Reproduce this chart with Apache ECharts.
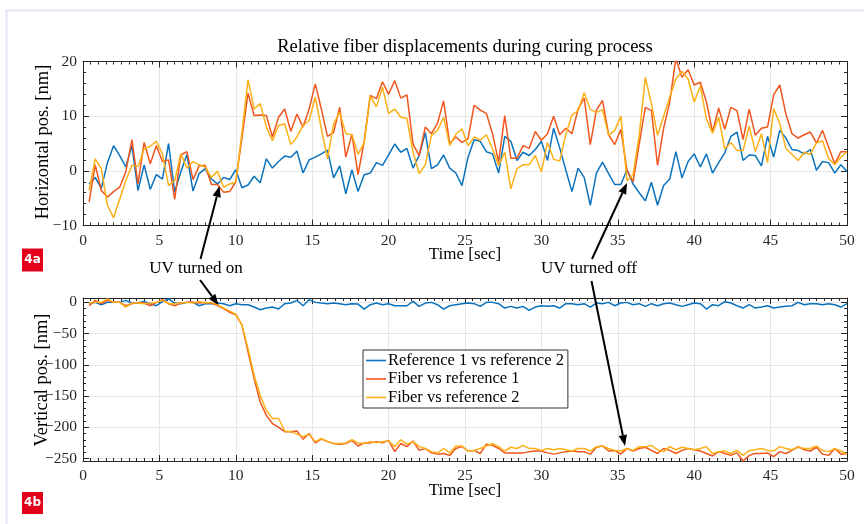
<!DOCTYPE html>
<html>
<head>
<meta charset="utf-8">
<script src="https://cdn.jsdelivr.net/npm/echarts@6/dist/echarts.min.js"></script>
<style>
html,body{margin:0;padding:0;background:#fff;}
#chart{width:864px;height:524px;}
</style>
</head>
<body>
<div id="chart"></div>
<script>
// ---- Data (sampled every 0.4 s, t = 0.4 ... 50.0) ----
const seriesNames = ['Reference 1 vs reference 2', 'Fiber vs reference 1', 'Fiber vs reference 2'];
const xTicks = [0, 5, 10, 15, 20, 25, 30, 35, 40, 45, 50];
const hTicks = [-10, 0, 10, 20];
const vTicks = [-250, -200, -150, -100, -50, 0];

// Horizontal position [nm]
const hRef12 = [-2.4,-1.2,-3.2,1.5,4.6,2.8,0.7,4.6,-3.6,1.1,-3.4,-0.7,-1.5,5.0,-3.9,-0.2,3.0,-3.7,-0.5,0.4,-1.5,-2.4,-1.2,-1.6,0.2,
-3.1,-2.6,-1.0,-2.2,2.2,0.5,1.7,2.7,2.5,3.6,-0.4,2.0,2.5,3.1,3.8,-1.3,0.9,-4.2,0.2,-3.8,-0.7,-0.4,1.5,1.0,2.9,
4.9,3.4,4.1,0.5,2.8,7.0,0.4,1.1,2.9,0.5,-0.4,-2.7,2.5,5.7,5.4,3.5,3.1,-0.4,6.3,5.4,1.9,3.4,2.8,3.9,5.4,
1.9,7.8,4.2,0.1,-3.8,0.5,-1.2,-6.3,-0.4,1.6,-0.5,-2.5,-2.5,0.2,-2.4,-4.0,-5.5,-2.1,-6.3,-2.7,-1.5,3.5,-1.3,1.7,3.1,
0.7,3.1,-0.4,1.5,3.3,6.3,7.1,1.9,2.9,2.8,0.9,6.3,2.5,7.4,6.0,3.9,3.7,3.1,3.9,0.1,1.7,1.5,-0.4,1.1,-0.1];
const hFib1 = [-5.7,1.1,-3.6,-4.8,-3.8,-3.0,-0.2,5.7,-2.4,5.2,1.3,4.6,1.7,2.0,-5.2,2.9,3.5,-1.6,0.9,1.0,-2.5,-2.5,-3.9,-3.8,-2.0,
6.0,14.2,10.1,10.2,10.1,6.2,9.8,11.3,7.2,10.4,8.0,11.3,15.9,11.3,6.3,7.0,11.6,2.5,6.7,-0.7,5.4,13.8,13.2,16.3,14.0,
16.5,13.3,13.9,4.9,2.8,8.0,6.8,8.7,12.8,5.0,6.2,5.2,5.9,12.0,11.1,10.5,6.8,1.6,10.1,2.3,2.3,4.6,4.1,7.2,5.6,
6.8,10.0,6.6,7.8,6.8,11.3,13.3,4.8,11.1,12.9,6.6,4.8,7.6,0.1,-2.0,4.9,11.6,11.0,1.0,7.8,12.6,20.5,17.1,18.5,15.7,
16.2,12.6,7.1,11.5,7.6,11.6,11.0,5.7,11.3,6.5,7.8,8.0,13.9,15.7,10.4,6.8,6.0,6.6,7.1,5.1,7.4,4.3,1.3,3.5,3.5];
const hFib2 = [-3.6,2.2,0.4,-6.3,-8.6,-5.2,-1.8,1.0,0.8,4.0,4.5,5.4,3.1,-2.7,-1.8,3.1,0.5,1.7,1.1,0.7,-1.2,-0.1,-3.0,-2.4,-2.1,
7.0,16.7,11.3,12.3,8.0,5.5,8.3,8.6,4.8,6.2,8.3,9.2,13.5,7.7,2.2,8.6,10.7,6.8,6.6,3.0,5.1,13.7,11.7,15.3,10.5,
11.3,9.8,9.6,3.4,-0.5,1.1,6.5,7.4,9.8,4.6,6.7,7.7,4.6,6.2,5.6,6.6,4.0,1.0,3.4,-3.3,0.4,1.1,1.1,2.8,-0.2,
5.2,2.1,1.8,6.7,10.2,11.0,14.3,11.2,10.7,11.2,6.5,7.4,10.0,-1.8,-0.7,6.5,17.1,12.3,6.5,10.0,13.5,16.8,18.2,16.8,12.6,
15.5,9.5,6.9,9.8,4.0,5.2,3.7,3.7,8.2,3.5,6.8,1.5,11.4,8.6,4.1,3.0,1.9,3.4,3.0,5.1,5.5,2.2,1.1,2.5,3.5];

// Vertical position [nm]
const vRef12 = [-2.1,0,-3.7,0,0,0,3.2,-1.1,-1.1,1.6,-2.1,-5.4,1.1,5.4,-1.1,-2.1,0,0,-5.4,-2.1,-2.1,-1.1,-2.1,-5.4,-2.1,
-3.7,-3.7,-7.5,-11.8,-9.1,-7.5,-10.7,-2.1,-1.1,3.2,-5.4,4.3,0,-1.1,-2.1,-1.1,-2.1,-3.7,-2.1,-2.7,-10.7,-3.7,-1.1,-3.7,-2.1,
-5.4,-5.4,-5.4,1.6,-6.4,-1.1,0,-3.7,-10.7,-5.4,-3.7,-2.1,-1.1,-2.1,-6.4,0,0,-2.1,-9.1,-6.4,-9.1,-6.4,-12.8,-7.5,-5.4,
-6.4,-5.4,-9.1,-2.1,-2.1,-3.7,-2.1,-7.5,-1.1,-2.1,0,-5.4,-1.1,0,-3.7,-2.1,-6.4,-2.1,-5.4,-2.1,-1.1,-3.7,-6.4,-3.7,-1.1,
-2.1,-10.7,-3.7,-5.4,1.1,-1.1,-5.4,-9.1,-3.7,-9.1,-7.5,-5.4,-9.1,-7.5,-6.4,-5.4,0,-3.7,-2.1,-2.1,-3.7,-2.1,-3.7,-7.5,-2.1];
const vFib1 = [-5.4,3.2,-2.1,3.2,0,0,-5.4,-2.1,0,-1.1,-5.4,0,4.3,-2.1,-5.4,-1.1,0,0,-1.1,0,-1.0,-5,-10,-16,-20,
-36,-79,-122,-160,-181,-194,-200,-207,-207,-206,-219,-210,-225,-219,-223,-226,-227,-226,-221,-230,-225,-225,-223,-225,-221,
-239,-226,-231,-222,-237,-234,-241,-243,-242,-245,-234,-231,-238,-237,-242,-227,-229,-234,-241,-241,-241,-241,-239,-238,-238,
-241,-243,-241,-239,-238,-239,-239,-243,-232,-230,-238,-237,-243,-234,-238,-234,-232,-237,-242,-234,-237,-242,-237,-234,-236,
-238,-242,-246,-239,-242,-245,-241,-254,-245,-242,-242,-241,-247,-239,-242,-237,-231,-236,-238,-232,-243,-245,-234,-243,-242];
const vFib2 = [-1.1,0,0,5.4,0,0,-7.5,-1.1,-1.1,-2.1,-1.1,0,3.2,-2.1,-2.1,-1.1,0,-1.1,1.6,-1.1,0,-4,-9,-14,-19,
-36,-74,-117,-149,-173,-186,-186,-206,-207,-211,-215,-211,-223,-218,-223,-226,-226,-225,-220,-225,-226,-223,-225,-223,-222,
-231,-220,-227,-223,-231,-234,-239,-241,-234,-241,-230,-230,-238,-237,-234,-230,-226,-231,-238,-232,-234,-229,-234,-234,-237,
-234,-236,-234,-236,-238,-234,-234,-238,-231,-230,-234,-237,-238,-234,-237,-231,-231,-229,-236,-239,-231,-236,-232,-234,-236,
-234,-231,-242,-239,-238,-242,-237,-245,-237,-236,-234,-237,-238,-231,-234,-236,-232,-234,-234,-230,-237,-239,-234,-238,-243];

const sampleTimes = hRef12.map((_, i) => Math.round((i + 1) * 4) / 10);
const pairs = arr => arr.map((v, i) => [sampleTimes[i], v]);

// ---- Styling ----
const colors = ['#0b72bd', '#f0561d', '#fbb117'];
const serif = 'Liberation Serif';
const axisColor = '#262626';
const gridColor = '#e6e6e6';
const minus = v => String(v).replace('-', '\u2212');

function xAxisDef(gridIndex, position, labels, split) {
  return {
    type: 'value', gridIndex, position, min: 0, max: 50, interval: 5,
    axisLine: { show: true, onZero: false, lineStyle: { color: axisColor, width: 1 } },
    axisTick: { show: true, inside: true, length: 6, lineStyle: { color: axisColor } },
    minorTick: { show: true, splitNumber: 10, length: 3, lineStyle: { color: axisColor } },
    splitLine: { show: split, lineStyle: { color: gridColor, width: 1 } },
    axisLabel: { show: labels, fontFamily: serif, fontSize: 15.5, color: axisColor, margin: 7,
      customValues: xTicks, formatter: minus }
  };
}
function yAxisDef(gridIndex, position, min, max, interval, minorSplit, labels, split, ticks, line) {
  return {
    type: 'value', gridIndex, position, min, max, interval,
    axisLine: { show: line, onZero: false, lineStyle: { color: axisColor, width: 1 } },
    axisTick: { show: ticks, inside: true, length: 6, lineStyle: { color: axisColor } },
    minorTick: { show: ticks, splitNumber: minorSplit, length: 3, lineStyle: { color: axisColor } },
    splitLine: { show: split, lineStyle: { color: gridColor, width: 1 } },
    axisLabel: { show: labels, fontFamily: serif, fontSize: 15.5, color: axisColor, margin: 6, formatter: minus }
  };
}

function arrow(x1, y1, x2, y2) {
  const ang = Math.atan2(y2 - y1, x2 - x1);
  const L = 11, W = 4.2;
  const bx = x2 - L * Math.cos(ang), by = y2 - L * Math.sin(ang);
  const px = -Math.sin(ang) * W, py = Math.cos(ang) * W;
  return [
    { type: 'line', shape: { x1, y1, x2: bx, y2: by }, style: { stroke: '#000', lineWidth: 2 }, z: 100 },
    { type: 'polygon', shape: { points: [[x2, y2], [bx + px, by + py], [bx - px, by - py]] },
      style: { fill: '#000' }, z: 100 }
  ];
}
function txt(x, y, text, size, opts) {
  return Object.assign({ type: 'text', x, y, z: 100,
    style: { text, font: size + 'px "' + serif + '"', fill: '#000', align: 'center', verticalAlign: 'middle' } }, opts || {});
}

const chart = echarts.init(document.getElementById('chart'), null, { renderer: 'canvas' });
const option = {
  animation: false,
  backgroundColor: '#fff',
  grid: [
    { left: 83, right: 17, top: 61.5, height: 164, outerBoundsMode: 'none', containLabel: false },
    { left: 83, right: 17, top: 298, height: 163, outerBoundsMode: 'none', containLabel: false },
    { left: 83, right: 17, top: 298 + 7 * 163 / 261, height: 250 * 163 / 261, outerBoundsMode: 'none', containLabel: false }
  ],
  xAxis: [
    xAxisDef(0, 'bottom', true, true),
    xAxisDef(0, 'top', false, false),
    xAxisDef(1, 'bottom', true, true),
    xAxisDef(1, 'top', false, false),
    Object.assign(xAxisDef(2, 'bottom', false, false), { show: false })
  ],
  yAxis: [
    yAxisDef(0, 'left', -10, 20, 10, 5, true, true, true, true),
    yAxisDef(0, 'right', -10, 20, 10, 5, false, false, true, true),
    yAxisDef(1, 'left', -254, 7, null, 5, false, false, false, true),
    yAxisDef(1, 'right', -254, 7, null, 5, false, false, false, true),
    yAxisDef(2, 'left', -250, 0, 50, 5, true, true, true, false),
    yAxisDef(2, 'right', -250, 0, 50, 5, false, false, true, false)
  ],
  legend: {
    data: seriesNames,
    orient: 'vertical', left: 363, top: 350,
    icon: 'rect', itemWidth: 20, itemHeight: 1.6, itemGap: 1.5,
    padding: [2, 4, 2, 3],
    backgroundColor: '#fff', borderColor: '#333', borderWidth: 1,
    textStyle: { fontFamily: serif, fontSize: 16.5, color: '#000', padding: [0, 0, 0, -3] },
    selectedMode: false
  },
  series: [
    ...[hRef12, hFib1, hFib2].map((d, i) => ({
      type: 'line', name: seriesNames[i], xAxisIndex: 0, yAxisIndex: 0, data: pairs(d),
      symbol: 'none', lineStyle: { color: colors[i], width: 1.5 }, itemStyle: { color: colors[i] }, clip: true
    })),
    ...[vRef12, vFib1, vFib2].map((d, i) => ({
      type: 'line', name: seriesNames[i], xAxisIndex: 4, yAxisIndex: 4, data: pairs(d),
      symbol: 'none', lineStyle: { color: colors[i], width: 1.5 }, itemStyle: { color: colors[i] }, clip: false
    }))
  ],
  graphic: [
    { type: 'rect', shape: { x: 6.5, y: 10.5, width: 900, height: 600 }, style: { fill: 'none', stroke: '#e2e9f4', lineWidth: 2 }, z: -1 },
    txt(465, 47, 'Relative fiber displacements during curing process', 18.5),
    txt(465, 255, 'Time [sec]', 17),
    txt(465, 491, 'Time [sec]', 17),
    txt(43, 142, 'Horizontal pos. [nm]', 18.5, { rotation: Math.PI / 2 }),
    txt(42.5, 380, 'Vertical pos. [nm]', 18.5, { rotation: Math.PI / 2 }),
    txt(196, 269, 'UV turned on', 17),
    txt(589, 269, 'UV turned off', 17),
    ...arrow(200.5, 259, 219.5, 186),
    ...arrow(200, 280, 218.5, 305),
    ...arrow(592, 259, 627, 183),
    ...arrow(591.5, 281, 625, 446),
    { type: 'rect', shape: { x: 22, y: 248.5, width: 21, height: 23 }, style: { fill: '#e3001b' }, z: 100 },
    { type: 'text', x: 32.5, y: 260, z: 101, style: { text: '4a', font: 'bold 12px "DejaVu Sans"', fill: '#fff', align: 'center', verticalAlign: 'middle' } },
    { type: 'rect', shape: { x: 22, y: 492, width: 21, height: 22 }, style: { fill: '#e3001b' }, z: 100 },
    { type: 'text', x: 32.5, y: 503, z: 101, style: { text: '4b', font: 'bold 12px "DejaVu Sans"', fill: '#fff', align: 'center', verticalAlign: 'middle' } }
  ]
};
chart.setOption(option);
</script>
</body>
</html>
